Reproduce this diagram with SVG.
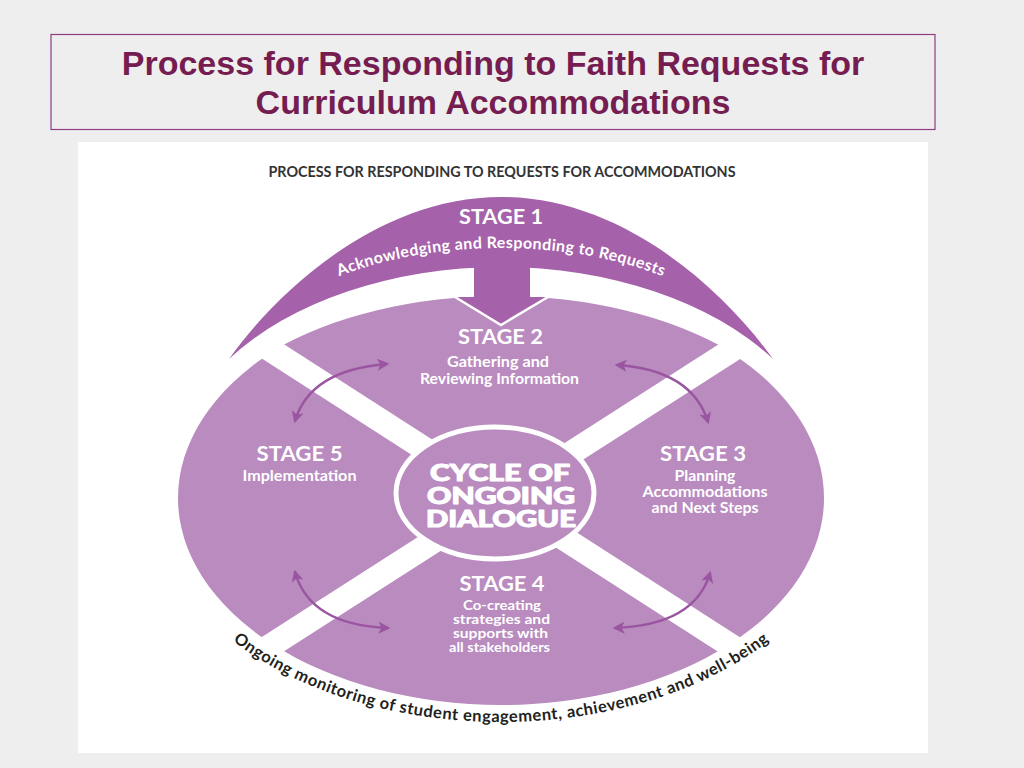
<svg xmlns="http://www.w3.org/2000/svg" width="1024" height="768" viewBox="0 0 1024 768">
  <style>
    .title { font-family: "Liberation Sans", Arial, sans-serif; font-weight: bold; font-size: 34px; fill: #751d50; text-anchor: middle; }
    .gs { font-family: "Lato", "Open Sans", "DejaVu Sans", sans-serif; font-weight: bold; text-anchor: middle; }
    .head { font-size: 20px; fill: #ffffff; }
    .sub { font-size: 14.5px; fill: #ffffff; }
    .sub4 { font-size: 13px; fill: #ffffff; }
    .big { font-size: 22.5px; font-weight: 900; fill: #ffffff; stroke: #ffffff; stroke-width: 1.1; stroke-linejoin: round; }
    .seg { fill: #b98bbf; }
    .conn { fill: none; stroke: #9a55a0; stroke-width: 2.5; marker-start: url(#ah); marker-end: url(#ah); }
  </style>
  <defs>
    <marker id="ah" viewBox="0 0 10 10" refX="8" refY="5" markerWidth="13" markerHeight="12" markerUnits="userSpaceOnUse" orient="auto-start-reverse">
      <path d="M0,0 L10,5 L0,10 L2.5,5 z" fill="#9a55a0"/>
    </marker>
    <clipPath id="wTop"><polygon points="501,483.7 164.5,267.5 164.5,100 837.8,100 837.8,268"/></clipPath>
    <clipPath id="wRight"><polygon points="523.2,498 860,282.3 1000,282.3 1000,714.2 859.7,714.2"/></clipPath>
    <clipPath id="wBottom"><polygon points="501,512.3 164.2,728 164.2,900 837.5,900 837.5,728.5"/></clipPath>
    <clipPath id="wLeft"><polygon points="478.8,498 142.3,281.8 0,281.8 0,713.7 142,713.7"/></clipPath>
    <path id="arcTop" d="M 300 295.6 A 260 130 0 0 1 702 295.6"/>
    <path id="arcBottom" d="M 174 574.6 A 348 224 0 0 0 828 574.6"/>
  </defs>

  <rect x="0" y="0" width="1024" height="768" fill="#efeeef"/>

  <g id="title">
    <rect x="51" y="34.5" width="884" height="95" fill="none" stroke="#8d3d84" stroke-width="1.2"/>
    <text class="title" x="493" y="75">Process for Responding to Faith Requests for</text>
    <text class="title" x="493" y="114">Curriculum Accommodations</text>
  </g>

  <rect id="panel" x="78" y="142" width="850" height="611" fill="#ffffff"/>

  <g id="header">
    <text class="gs" x="502" y="176.5" font-size="15.5" fill="#333333" textLength="467" lengthAdjust="spacingAndGlyphs">PROCESS FOR RESPONDING TO REQUESTS FOR ACCOMMODATIONS</text>
  </g>

  <g id="stage2">
    <ellipse class="seg" cx="501" cy="483" rx="323" ry="187" clip-path="url(#wTop)"/>
    <text class="gs head" x="500.5" y="344" textLength="85" lengthAdjust="spacingAndGlyphs">STAGE 2</text>
    <text class="gs sub" x="498" y="367" textLength="102" lengthAdjust="spacingAndGlyphs">Gathering and</text>
    <text class="gs sub" x="499.5" y="384" textLength="159" lengthAdjust="spacingAndGlyphs">Reviewing Information</text>
  </g>

  <g id="stage3">
    <ellipse class="seg" cx="501" cy="498" rx="323" ry="207" clip-path="url(#wRight)"/>
    <text class="gs head" x="703" y="461" textLength="86" lengthAdjust="spacingAndGlyphs">STAGE 3</text>
    <text class="gs sub" x="705" y="481" textLength="61" lengthAdjust="spacingAndGlyphs">Planning</text>
    <text class="gs sub" x="705" y="497" textLength="125" lengthAdjust="spacingAndGlyphs">Accommodations</text>
    <text class="gs sub" x="705" y="513" textLength="107" lengthAdjust="spacingAndGlyphs">and Next Steps</text>
  </g>

  <g id="stage4">
    <ellipse class="seg" cx="501" cy="498" rx="323" ry="207" clip-path="url(#wBottom)"/>
    <text class="gs head" x="502" y="591" textLength="85" lengthAdjust="spacingAndGlyphs">STAGE 4</text>
    <text class="gs sub4" x="502" y="610" textLength="78" lengthAdjust="spacingAndGlyphs">Co-creating</text>
    <text class="gs sub4" x="501.5" y="624" textLength="97" lengthAdjust="spacingAndGlyphs">strategies and</text>
    <text class="gs sub4" x="500.5" y="638" textLength="95" lengthAdjust="spacingAndGlyphs">supports with</text>
    <text class="gs sub4" x="499.5" y="652" textLength="101" lengthAdjust="spacingAndGlyphs">all stakeholders</text>
  </g>

  <g id="stage5">
    <ellipse class="seg" cx="501" cy="498" rx="323" ry="207" clip-path="url(#wLeft)"/>
    <text class="gs head" x="299.5" y="461" textLength="86" lengthAdjust="spacingAndGlyphs">STAGE 5</text>
    <text class="gs sub" x="299.5" y="481" textLength="114" lengthAdjust="spacingAndGlyphs">Implementation</text>
  </g>

  <g id="center">
    <ellipse cx="495" cy="493" rx="99" ry="66" fill="#b98bbf" stroke="#ffffff" stroke-width="5"/>
    <text class="gs big" x="500" y="481" textLength="140" lengthAdjust="spacingAndGlyphs">CYCLE OF</text>
    <text class="gs big" x="501" y="504" textLength="148" lengthAdjust="spacingAndGlyphs">ONGOING</text>
    <text class="gs big" x="501" y="527" textLength="150" lengthAdjust="spacingAndGlyphs">DIALOGUE</text>
  </g>

  <g id="stage1">
    <path d="M 229 359 C 279 289 380 197 501 197 C 622 197 723 289 773 359 A 330 212 0 0 0 229 359 Z" fill="#a561a9"/>
    <text class="gs head" x="501" y="224" textLength="84" lengthAdjust="spacingAndGlyphs">STAGE 1</text>
    <text class="gs" font-size="16" fill="#ffffff"><textPath href="#arcTop" startOffset="50%" textLength="330" lengthAdjust="spacing">Acknowledging and Responding to Requests</textPath></text>
  </g>

  <g id="monitoring">
    <text class="gs" font-size="16.5" fill="#231f20"><textPath href="#arcBottom" startOffset="50%" textLength="570" lengthAdjust="spacing">Ongoing monitoring of student engagement, achievement and well-being</textPath></text>
  </g>

  <g id="connectors">
    <g id="stage1-to-stage2">
      <polygon points="474,262 474,297 455,297 501,325 548,297 530,297 530,262" fill="#a561a9"/>
      <polyline points="455,297 501,325 548,297" fill="none" stroke="#ffffff" stroke-width="2.5" stroke-linejoin="miter"/>
    </g>
    <path class="conn" d="M 295 421 Q 310 370 387 364"/>
    <path class="conn" d="M 617 365 Q 692 370 708 422"/>
    <path class="conn" d="M 295 572 Q 310 625 388 628"/>
    <path class="conn" d="M 615 628 Q 695 625 710 573"/>
  </g>
</svg>
